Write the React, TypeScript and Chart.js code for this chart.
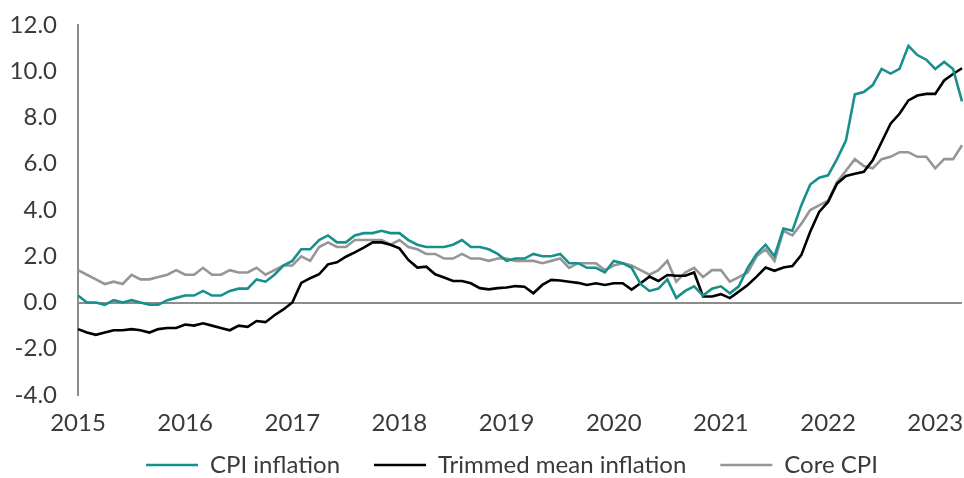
import React, { useEffect, useRef } from 'react';
import { Chart, registerables } from 'chart.js';

Chart.register(...registerables);

const yearLabels = ['2015', '2016', '2017', '2018', '2019', '2020', '2021', '2022', '2023'];
const monthNames = ['Jan', 'Feb', 'Mar', 'Apr', 'May', 'Jun', 'Jul', 'Aug', 'Sep', 'Oct', 'Nov', 'Dec'];

const cpiInflation = [
  0.3, 0.0, 0.0, -0.1, 0.1, 0.0, 0.1, 0.0, -0.1, -0.1, 0.1, 0.2,
  0.3, 0.3, 0.5, 0.3, 0.3, 0.5, 0.6, 0.6, 1.0, 0.9, 1.2, 1.6,
  1.8, 2.3, 2.3, 2.7, 2.9, 2.6, 2.6, 2.9, 3.0, 3.0, 3.1, 3.0,
  3.0, 2.7, 2.5, 2.4, 2.4, 2.4, 2.5, 2.7, 2.4, 2.4, 2.3, 2.1,
  1.8, 1.9, 1.9, 2.1, 2.0, 2.0, 2.1, 1.7, 1.7, 1.5, 1.5, 1.3,
  1.8, 1.7, 1.5, 0.8, 0.5, 0.6, 1.0, 0.2, 0.5, 0.7, 0.3, 0.6,
  0.7, 0.4, 0.7, 1.5, 2.1, 2.5, 2.0, 3.2, 3.1, 4.2, 5.1, 5.4,
  5.5, 6.2, 7.0, 9.0, 9.1, 9.4, 10.1, 9.9, 10.1, 11.1, 10.7, 10.5,
  10.1, 10.4, 10.1, 8.7,
];

const trimmedMeanInflation = [
  -1.15, -1.3, -1.4, -1.3, -1.2, -1.2, -1.15, -1.2, -1.3, -1.15, -1.1, -1.1,
  -0.95, -1.0, -0.9, -1.0, -1.1, -1.2, -1.0, -1.05, -0.8, -0.85, -0.55, -0.3,
  0.0, 0.85, 1.05, 1.22, 1.65, 1.74, 1.98, 2.17, 2.37, 2.6, 2.6, 2.5,
  2.34, 1.84, 1.51, 1.55, 1.22, 1.08, 0.93, 0.93, 0.83, 0.62, 0.57, 0.62,
  0.65, 0.71, 0.68, 0.4, 0.76, 0.98, 0.95, 0.9, 0.85, 0.76, 0.83, 0.76,
  0.83, 0.83, 0.56, 0.83, 1.12, 0.93, 1.19, 1.16, 1.16, 1.3, 0.26, 0.26,
  0.36, 0.19, 0.47, 0.76, 1.12, 1.51, 1.37, 1.51, 1.58, 2.05, 3.06, 3.92,
  4.35, 5.14, 5.47, 5.57, 5.65, 6.15, 6.94, 7.73, 8.16, 8.74, 8.95, 9.02,
  9.02, 9.6, 9.88, 10.13,
];

const coreCpi = [
  1.4, 1.2, 1.0, 0.8, 0.9, 0.8, 1.2, 1.0, 1.0, 1.1, 1.2, 1.4,
  1.2, 1.2, 1.5, 1.2, 1.2, 1.4, 1.3, 1.3, 1.5, 1.2, 1.4, 1.6,
  1.6, 2.0, 1.8, 2.4, 2.6, 2.4, 2.4, 2.7, 2.7, 2.7, 2.7, 2.5,
  2.7, 2.4, 2.3, 2.1, 2.1, 1.9, 1.9, 2.1, 1.9, 1.9, 1.8, 1.9,
  1.9, 1.8, 1.8, 1.8, 1.7, 1.8, 1.9, 1.5, 1.7, 1.7, 1.7, 1.4,
  1.6, 1.7, 1.6, 1.4, 1.2, 1.4, 1.8, 0.9, 1.3, 1.5, 1.1, 1.4,
  1.4, 0.9, 1.1, 1.3, 2.0, 2.3, 1.8, 3.1, 2.9, 3.4, 4.0, 4.2,
  4.4, 5.2, 5.7, 6.2, 5.9, 5.8, 6.2, 6.3, 6.5, 6.5, 6.3, 6.3,
  5.8, 6.2, 6.2, 6.8,
];

const seriesNames = ['CPI inflation', 'Trimmed mean inflation', 'Core CPI'];
const seriesColors = ['#17908b', '#000000', '#969696'];
const yMin = -4;
const yMax = 12;
const yStep = 2;

const categories = cpiInflation.map(
  (_, i) => `${monthNames[i % 12]} ${yearLabels[Math.floor(i / 12)]}`
);

const FONT = 'Lato, "Noto Sans", sans-serif';
const TEXT = '#3a3a3a';
const AXIS = '#8c8c8c';

// Moves the legend row up into the space below the year labels.
const legendNudge = {
  id: 'legendNudge',
  afterLayout(chart: any) {
    const lg = chart.legend;
    if (!lg) return;
    lg.top -= 21;
    lg.left -= 8;
    lg.right -= 8;
  },
};

export default function App() {
  const ref = useRef<HTMLCanvasElement | null>(null);

  useEffect(() => {
    if (!ref.current) return;
    const seriesData = [cpiInflation, trimmedMeanInflation, coreCpi];
    const chart = new Chart(ref.current, {
      type: 'line',
      data: {
        labels: categories,
        datasets: seriesData.map((d, k) => ({
          label: seriesNames[k],
          data: d,
          borderColor: seriesColors[k],
          backgroundColor: seriesColors[k],
          borderWidth: 2.6,
          pointRadius: 0,
          tension: 0,
          fill: false,
          order: k,
        })),
      },
      plugins: [legendNudge],
      options: {
        responsive: false,
        animation: false,
        layout: { padding: { top: 25, right: 2, left: 0, bottom: 0 } },
        plugins: {
          tooltip: { enabled: false },
          legend: {
            position: 'bottom',
            fullSize: false,
            maxHeight: 38,
            labels: {
              usePointStyle: true,
              pointStyle: 'line',
              pointStyleWidth: 52,
              boxHeight: 3,
              font: { family: FONT, size: 24 },
              color: TEXT,
              padding: 34,
            },
          },
        },
        scales: {
          x: {
            type: 'category',
            offset: false,
            grid: { display: false, drawTicks: false },
            border: { display: false },
            ticks: {
              autoSkip: false,
              maxRotation: 0,
              minRotation: 0,
              padding: 14,
              font: { family: FONT, size: 24 },
              color: TEXT,
              callback: (_v: any, idx: number) =>
                idx % 12 === 0 ? yearLabels[idx / 12] : '',
            },
            afterFit: (s: any) => {
              s.height = 45;
              s.paddingLeft = 0;
              s.paddingRight = 0;
            },
          },
          y: {
            min: yMin,
            max: yMax,
            grid: {
              drawTicks: false,
              lineWidth: 2,
              color: (ctx: any) => (ctx.tick && ctx.tick.value === 0 ? AXIS : 'rgba(0,0,0,0)'),
            },
            border: { display: true, color: AXIS, width: 2 },
            ticks: {
              stepSize: yStep,
              padding: 21,
              font: { family: FONT, size: 24 },
              color: TEXT,
              callback: (v: any) => Number(v).toFixed(1),
            },
            afterFit: (s: any) => {
              s.width = 78;
              s.paddingTop = 0;
              s.paddingBottom = 0;
            },
          },
        },
      },
    });
    return () => chart.destroy();
  }, []);

  return (
    <div style={{ position: 'fixed', left: 0, top: 0, width: 964, height: 478, background: '#fff' }}>
      <canvas ref={ref} width={964} height={478} style={{ width: 964, height: 478 }} />
    </div>
  );
}
